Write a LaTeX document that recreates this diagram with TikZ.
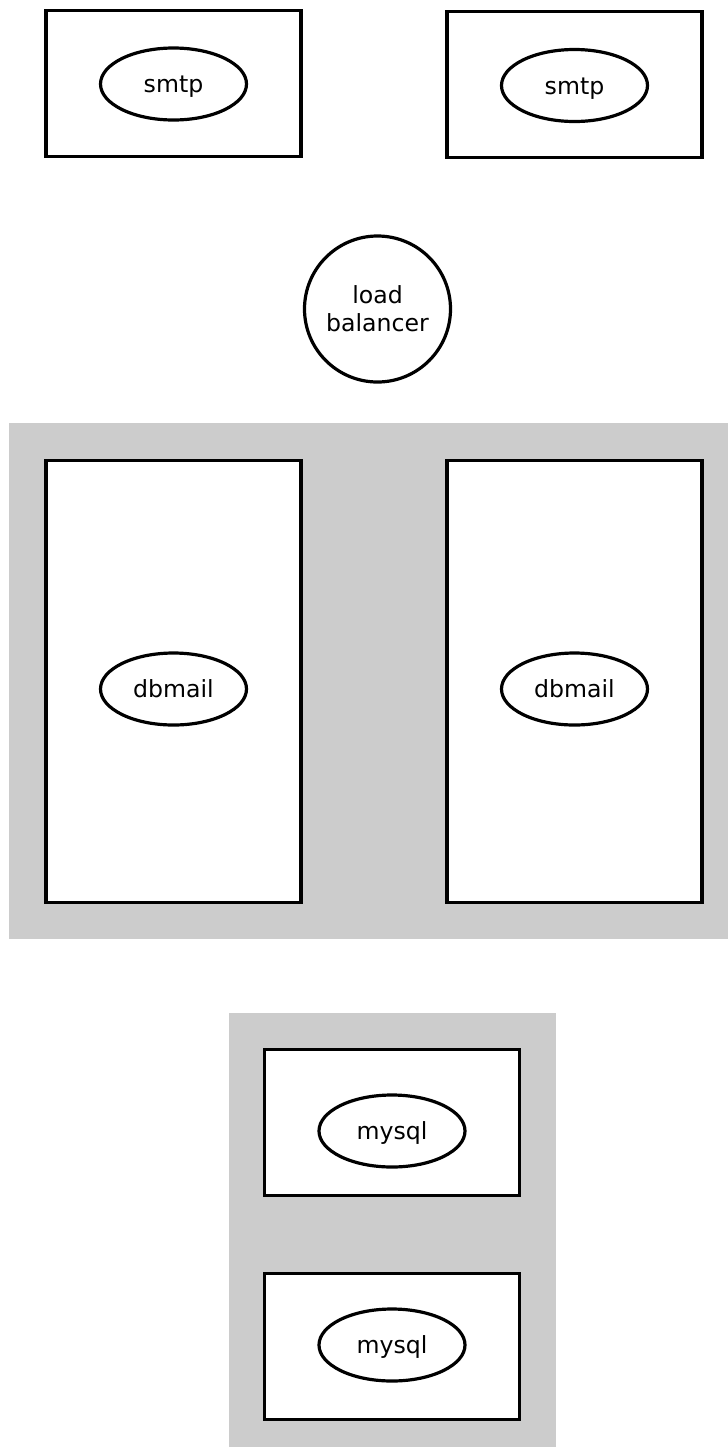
\documentclass[tikz,border=0pt]{standalone}
\usepackage{fontspec}
\setmainfont{DejaVu Sans}
\usetikzlibrary{shapes.geometric}
\definecolor{clgray}{RGB}{204,204,204}
\tikzset{
  px/.style={x=0.5pt,y=-0.5pt},
  cluster/.style={fill=clgray,draw=none},
  hostbox/.style={draw,line width=1.6pt,fill=white,rectangle,inner sep=0pt,minimum width=127.5pt},
  smallbox/.style={hostbox,minimum height=73pt},
  tallbox/.style={hostbox,minimum height=221pt},
  svc/.style={draw,line width=1.6pt,fill=white,ellipse,inner sep=0pt,minimum width=73pt,minimum height=36pt,text height=8.6pt,text depth=0pt,font=\fontsize{11.8pt}{14pt}\selectfont},
  lb/.style={draw,line width=1.6pt,fill=white,circle,inner sep=0pt,minimum size=73pt,align=center,font=\fontsize{11.8pt}{14pt}\selectfont}
}
\begin{document}
\begin{tikzpicture}[px]
\useasboundingbox (0,0) rectangle (728,1447);
% clusters
\path[cluster] (9,423) rectangle (728,939);
\path[cluster] (229,1013) rectangle (556,1447);
% smtp hosts
\node[smallbox] (h1) at (173.5,83.5) {};
\node[svc] (smtp1) at (173.5,84) {smtp};
\node[smallbox] (h2) at (574.5,84.5) {};
\node[svc] (smtp2) at (574.5,85.5) {smtp};
% load balancer
\node[lb] (lbal) at (377.5,309) {load\\balancer};
% dbmail hosts
\node[tallbox] (h3) at (173.5,681.5) {};
\node[svc] (db1) at (173.5,689) {dbmail};
\node[tallbox] (h4) at (574.5,681.5) {};
\node[svc] (db2) at (574.5,689) {dbmail};
% mysql hosts
\node[smallbox] (h5) at (392,1122.5) {};
\node[svc] (my1) at (392,1131) {mysql};
\node[smallbox] (h6) at (392,1346.5) {};
\node[svc] (my2) at (392,1345) {mysql};
\end{tikzpicture}
\end{document}
